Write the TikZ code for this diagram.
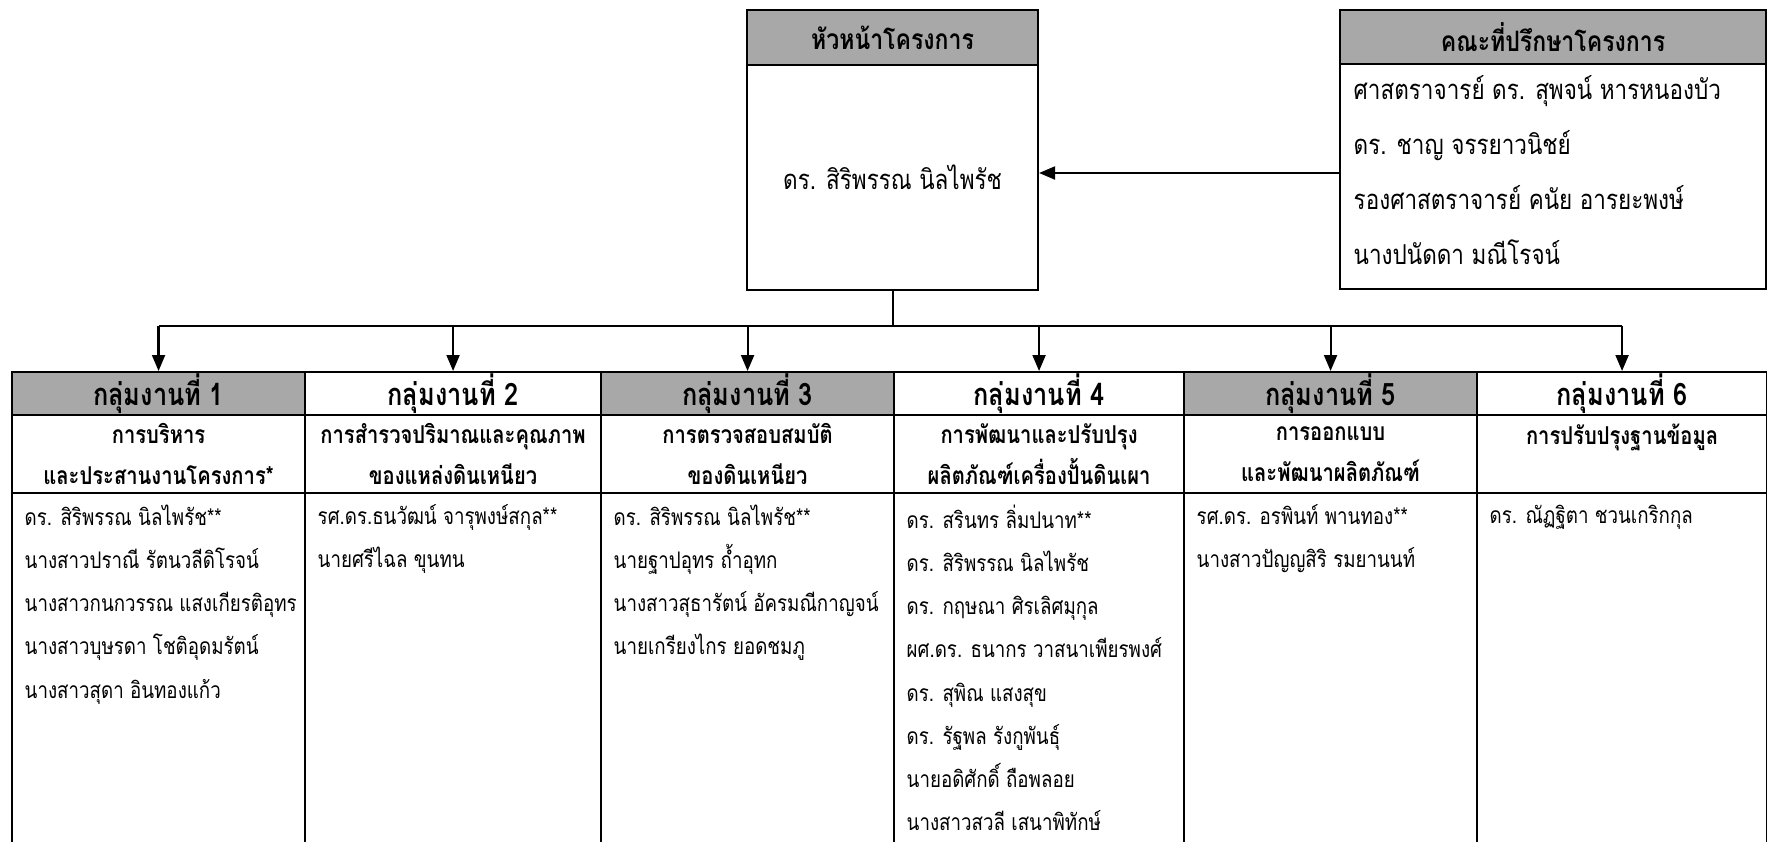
\documentclass[tikz,border=0pt]{standalone}
\usepackage{fontspec}
\newfontfamily\thaifont[Script=Thai,FakeStretch=0.82]{Loma}
\usetikzlibrary{arrows.meta,positioning}
\definecolor{hdgray}{gray}{0.66}
\tikzset{
  cell/.style={draw, line width=0.6pt, inner sep=0pt, anchor=north west},
  graycell/.style={cell, fill=hdgray},
  hdtext/.style={font=\thaifont\bfseries\fontsize{8}{10}\selectfont},
  grptext/.style={font=\thaifont\bfseries\fontsize{8.8}{11}\selectfont},
  subtext/.style={font=\thaifont\bfseries\fontsize{7}{11.5}\selectfont, align=center},
  names/.style={font=\thaifont\fontsize{6.5}{12.3}\selectfont, align=left, anchor=north west, inner sep=0pt},
  line/.style={line width=0.6pt},
  link/.style={line width=0.6pt, -{Triangle[length=1.6mm,width=1.3mm]}},
}
\begin{document}
\begin{tikzpicture}[x=0.1mm, y=-0.1mm]
  \useasboundingbox (0,0) rectangle (1767,842);
  % project head
  \node[graycell, hdtext, minimum width=29.1mm, minimum height=5.5mm] (headtitle) at (746,9) {หัวหน้าโครงการ};
  \node[cell, font=\thaifont\fontsize{7.8}{10}\selectfont, minimum width=29.1mm, minimum height=22.5mm] (head) at (746,64) {ดร. สิริพรรณ นิลไพรัช};
  % advisors
  \node[graycell, hdtext, minimum width=42.6mm, minimum height=5.4mm] (advtitle) at (1339,9) {คณะที่ปรึกษาโครงการ};
  \node[cell, minimum width=42.6mm, minimum height=22.5mm] (adv) at (1339,63) {};
  \node[names, font=\thaifont\fontsize{7.8}{15.6}\selectfont, below right=1.2mm and 1.4mm of adv.north west] (advnames)
    {ศาสตราจารย์ ดร. สุพจน์ หารหนองบัว\\ดร. ชาญ จรรยาวนิชย์\\รองศาสตราจารย์ คนัย อารยะพงษ์\\นางปนัดดา มณีโรจน์};
  % work groups
  \node[graycell, grptext, minimum width=29.3mm, minimum height=4.3mm] (g1) at (11,371) {กลุ่มงานที่ 1};
  \node[cell, grptext, minimum width=29.6mm, minimum height=4.3mm] (g2) at (304,371) {กลุ่มงานที่ 2};
  \node[graycell, grptext, minimum width=29.3mm, minimum height=4.3mm] (g3) at (600,371) {กลุ่มงานที่ 3};
  \node[cell, grptext, minimum width=29.0mm, minimum height=4.3mm] (g4) at (893,371) {กลุ่มงานที่ 4};
  \node[graycell, grptext, minimum width=29.3mm, minimum height=4.3mm] (g5) at (1183,371) {กลุ่มงานที่ 5};
  \node[cell, grptext, minimum width=29.0mm, minimum height=4.3mm] (g6) at (1476,371) {กลุ่มงานที่ 6};
  \node[cell, subtext, minimum width=29.3mm, minimum height=7.8mm] (s1) at (11,414) {การบริหาร\\และประสานงานโครงการ*};
  \node[cell, subtext, minimum width=29.6mm, minimum height=7.8mm] (s2) at (304,414) {การสำรวจปริมาณและคุณภาพ\\ของแหล่งดินเหนียว};
  \node[cell, subtext, minimum width=29.3mm, minimum height=7.8mm] (s3) at (600,414) {การตรวจสอบสมบัติ\\ของดินเหนียว};
  \node[cell, subtext, minimum width=29.0mm, minimum height=7.8mm] (s4) at (893,414) {การพัฒนาและปรับปรุง\\ผลิตภัณฑ์เครื่องปั้นดินเผา};
  \node[cell, subtext, minimum width=29.3mm, minimum height=7.8mm] (s5) at (1183,414) {การออกแบบ\\และพัฒนาผลิตภัณฑ์};
  \node[cell, subtext, minimum width=29.0mm, minimum height=7.8mm] (s6) at (1476,414) {การปรับปรุงฐานข้อมูล\\ \mbox{}};
  \node[cell, minimum width=29.3mm, minimum height=40mm] (m1) at (11,492) {};
  \node[cell, minimum width=29.6mm, minimum height=40mm] (m2) at (304,492) {};
  \node[cell, minimum width=29.3mm, minimum height=40mm] (m3) at (600,492) {};
  \node[cell, minimum width=29.0mm, minimum height=40mm] (m4) at (893,492) {};
  \node[cell, minimum width=29.3mm, minimum height=40mm] (m5) at (1183,492) {};
  \node[cell, minimum width=29.0mm, minimum height=40mm] (m6) at (1476,492) {};
  \node[names, below right=1.2mm and 1.3mm of m1.north west] (n1)
    {ดร. สิริพรรณ นิลไพรัช**\\นางสาวปราณี รัตนวลีดิโรจน์\\นางสาวกนกวรรณ แสงเกียรติอุทร\\นางสาวบุษรดา โชติอุดมรัตน์\\นางสาวสุดา อินทองแก้ว};
  \node[names, below right=1.2mm and 1.3mm of m2.north west] (n2)
    {รศ.ดร.ธนวัฒน์ จารุพงษ์สกุล**\\นายศรีไฉล ขุนทน};
  \node[names, below right=1.2mm and 1.3mm of m3.north west] (n3)
    {ดร. สิริพรรณ นิลไพรัช**\\นายฐาปอุทร ถ้ำอุทก\\นางสาวสุธารัตน์ อัครมณีกาญจน์\\นายเกรียงไกร ยอดชมภู};
  \node[names, below right=1.2mm and 1.3mm of m4.north west] (n4)
    {ดร. สรินทร ลิ่มปนาท**\\ดร. สิริพรรณ นิลไพรัช\\ดร. กฤษณา ศิรเลิศมุกุล\\ผศ.ดร. ธนากร วาสนาเพียรพงศ์\\ดร. สุพิณ แสงสุข\\ดร. รัฐพล รังกูพันธุ์\\นายอดิศักดิ์ ถือพลอย\\นางสาวสวลี เสนาพิทักษ์};
  \node[names, below right=1.2mm and 1.3mm of m5.north west] (n5)
    {รศ.ดร. อรพินท์ พานทอง**\\นางสาวปัญญสิริ รมยานนท์};
  \node[names, below right=1.2mm and 1.3mm of m6.north west] (n6)
    {ดร. ณัฏฐิตา ชวนเกริกกุล};
  % connectors
  \coordinate (bus) at (893,326);
  \draw[line] (head.south) -- (head.south |- bus);
  \draw[line] (g1.north |- bus) -- (g6.north |- bus);
  \begin{scope}[link]
    \draw (adv.west |- 0,173) -- (head.east |- 0,173);
    \draw (g1.north |- bus) -- (g1.north);
    \draw (g2.north |- bus) -- (g2.north);
    \draw (g3.north |- bus) -- (g3.north);
    \draw (g4.north |- bus) -- (g4.north);
    \draw (g5.north |- bus) -- (g5.north);
    \draw (g6.north |- bus) -- (g6.north);
  \end{scope}
\end{tikzpicture}
\end{document}
